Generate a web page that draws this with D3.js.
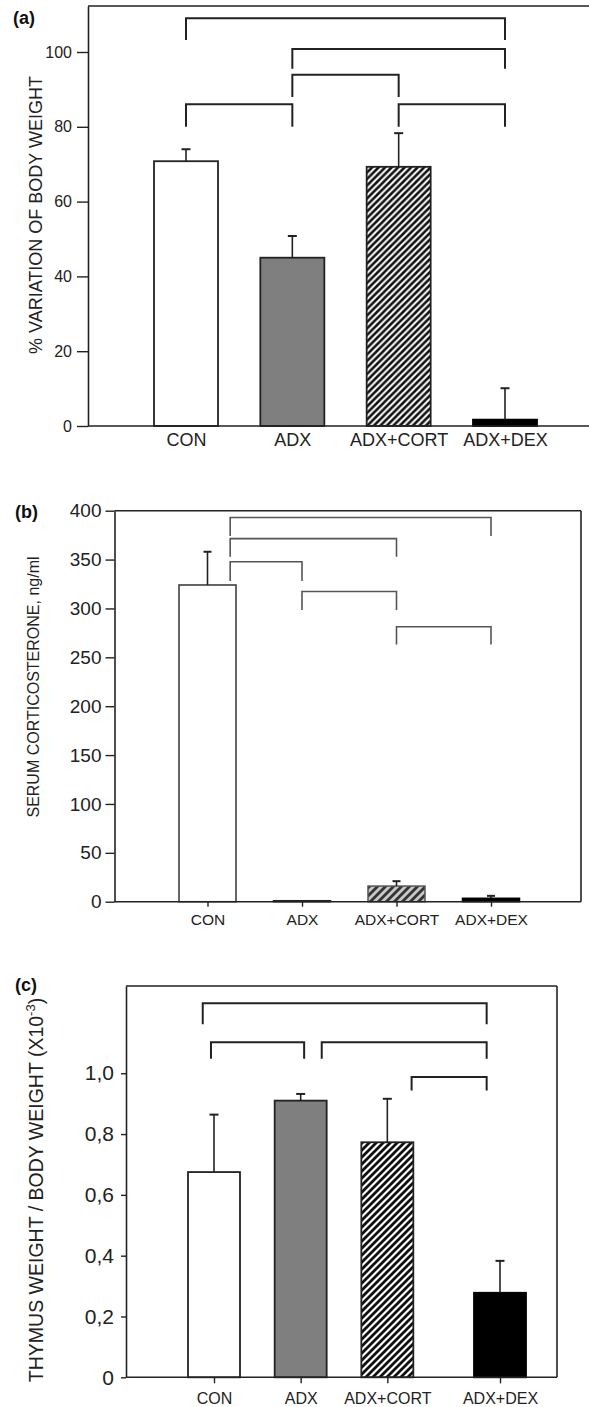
<!DOCTYPE html>
<html><head><meta charset="utf-8">
<script src="https://cdn.jsdelivr.net/npm/d3@7"></script>
<style>body{margin:0;background:#fff}svg{display:block}</style>
</head><body><svg id="chart" width="589" height="1407"></svg>
<script>
// ---------- data ----------
const categories = ["CON", "ADX", "ADX+CORT", "ADX+DEX"];

const bodyWeightMean = [70.8, 45.0, 69.3, 1.7];
const bodyWeightSE = [3.2, 5.8, 9.0, 8.4];
const bodyWeightTicks = [0, 20, 40, 60, 80, 100];
// [from category, to category, bracket top, leg bottom] in data units
const bodyWeightBrackets = [[0, 3, 109, 103.2], [1, 3, 100.8, 95.5], [1, 2, 93.9, 88], [0, 1, 86, 80], [2, 3, 86, 80]];

const corticosteroneMean = [324, 1, 16, 3.5];
const corticosteroneSE = [34, 0, 5, 2.5];
const corticosteroneTicks = [0, 50, 100, 150, 200, 250, 300, 350, 400];
const corticosteroneBrackets = [[0.24, 3, 393, 374], [0.24, 2, 371.4, 353], [0.24, 1, 347.7, 328], [1, 2, 317.3, 298.4], [2, 3, 281.3, 263]];

const thymusMean = [0.675, 0.91, 0.773, 0.278];
const thymusSE = [0.189, 0.022, 0.143, 0.105];
const thymusTicks = [0, 0.2, 0.4, 0.6, 0.8, 1.0];
const thymusTickLabels = ["0", "0,2", "0,4", "0,6", "0,8", "1,0"];
const thymusBrackets = [[-0.13, 3.146, 1.23, 1.161], [-0.035, 1.04, 1.102, 1.048], [1.243, 3.146, 1.102, 1.048], [2.28, 3.146, 0.988, 0.943]];

// ---------- drawing ----------
const FONT = "'Liberation Sans', Arial, Helvetica, sans-serif";
const INK = "#222";
const svg = d3.select("#chart");
const defs = svg.append("defs");

function hatch(id, size, bg, fg, sw) {
  const p = defs.append("pattern").attr("id", id)
    .attr("patternUnits", "userSpaceOnUse").attr("width", size).attr("height", size);
  p.append("rect").attr("width", size).attr("height", size).attr("fill", bg);
  p.append("path")
    .attr("d", `M0,${size} L${size},0 M${-size/2},${size/2} L${size/2},${-size/2} M${size/2},${size*1.5} L${size*1.5},${size/2}`)
    .attr("stroke", fg).attr("stroke-width", sw);
}
hatch("hatchA", 6.5, "#fff", "#111", 2.6);
hatch("hatchB", 8, "#c8c8c8", "#333", 2.8);
hatch("hatchC", 7, "#fff", "#111", 2.8);

function panel(cfg) {
  const g = svg.append("g");
  const y = d3.scaleLinear().domain([0, cfg.yMax]).range([cfg.bottom, cfg.top]);
  const x = d3.scaleLinear().domain(cfg.xDomain).range(cfg.xRange);
  const rows = cfg.mean.map((m, i) => ({m, se: cfg.se[i], p: cfg.catPos[i], fill: cfg.fills[i], stroke: cfg.strokes[i]}));

  // frame
  g.append("line").attr("x1", cfg.left).attr("x2", cfg.right).attr("y1", cfg.top).attr("y2", cfg.top)
    .attr("stroke", INK).attr("stroke-width", 1.6);
  if (cfg.rightFrame) {
    g.append("line").attr("x1", cfg.right).attr("x2", cfg.right).attr("y1", cfg.top).attr("y2", cfg.bottom)
      .attr("stroke", INK).attr("stroke-width", 1.6);
  }

  // bars
  g.selectAll("rect.bar").data(rows).join("rect").attr("class", "bar")
    .attr("x", d => x(d.p) - cfg.barW / 2)
    .attr("width", cfg.barW)
    .attr("y", d => y(d.m))
    .attr("height", d => cfg.bottom - y(d.m))
    .attr("fill", d => d.fill)
    .attr("stroke", d => d.stroke)
    .attr("stroke-width", cfg.barStroke);

  // error bars (upper only)
  const withErr = rows.filter(d => d.se > 0);
  g.selectAll("line.err").data(withErr).join("line").attr("class", "err")
    .attr("x1", d => x(d.p)).attr("x2", d => x(d.p))
    .attr("y1", d => y(d.m)).attr("y2", d => y(d.m + d.se))
    .attr("stroke", INK).attr("stroke-width", 1.6);
  g.selectAll("line.cap").data(withErr).join("line").attr("class", "cap")
    .attr("x1", d => x(d.p) - cfg.cap / 2).attr("x2", d => x(d.p) + cfg.cap / 2)
    .attr("y1", d => y(d.m + d.se)).attr("y2", d => y(d.m + d.se))
    .attr("stroke", INK).attr("stroke-width", 2);

  // significance brackets
  g.selectAll("path.br").data(cfg.brackets).join("path").attr("class", "br")
    .attr("d", b => `M${x(b[0])},${y(b[3])} V${y(b[2])} H${x(b[1])} V${y(b[3])}`)
    .attr("fill", "none").attr("stroke", cfg.brColor).attr("stroke-width", cfg.brWidth);

  // y axis
  const ya = d3.axisLeft(y).tickValues(cfg.ticks).tickSize(cfg.tickSize).tickPadding(cfg.tickPad).tickSizeOuter(0)
    .tickFormat((d, i) => cfg.tickLabels ? cfg.tickLabels[i] : d);
  const yg = g.append("g").attr("transform", `translate(${cfg.left},0)`).call(ya);
  yg.select(".domain").attr("stroke", INK).attr("stroke-width", 1.6);
  yg.selectAll(".tick line").attr("stroke", INK).attr("stroke-width", 1.4);
  yg.selectAll("text").attr("font-family", FONT).attr("font-size", cfg.tickFont).attr("fill", INK);

  // x baseline
  g.append("line").attr("x1", cfg.left).attr("x2", cfg.right).attr("y1", cfg.bottom).attr("y2", cfg.bottom)
    .attr("stroke", INK).attr("stroke-width", 1.6);
  // x axis labels
  const xa = d3.axisBottom(x).tickValues(cfg.catPos).tickSize(cfg.xTick).tickPadding(cfg.xPad)
    .tickFormat((d, i) => categories[i]);
  const xg = g.append("g").attr("transform", `translate(0,${cfg.bottom})`).call(xa);
  xg.select(".domain").remove();
  xg.selectAll(".tick line").attr("stroke", INK).attr("stroke-width", 1.4);
  xg.selectAll("text").attr("font-family", FONT).attr("font-size", cfg.labelFont).attr("fill", INK);

  // y label
  const yl = g.append("text")
    .attr("transform", `translate(${cfg.yLabelX},${cfg.yLabelY}) rotate(-90)`)
    .attr("text-anchor", "middle").attr("font-family", FONT).attr("font-size", cfg.yLabelFont).attr("fill", INK);
  cfg.yLabel.forEach(part => {
    const t = yl.append("tspan").text(part.t);
    if (part.dy) t.attr("dy", part.dy);
    if (part.fs) t.attr("font-size", part.fs);
  });

  // panel letter
  g.append("text").attr("x", cfg.letterX).attr("y", cfg.letterY)
    .attr("font-family", FONT).attr("font-weight", "bold").attr("font-size", 18).attr("fill", "#111")
    .text(cfg.letter);
}

panel({
  letter: "(a)", letterX: 13, letterY: 24,
  top: 6, bottom: 426, left: 88, right: 589, rightFrame: false, yMax: 112.3,
  xDomain: [0, 3], xRange: [186, 505], catPos: [0, 1, 2, 3], barW: 64, barStroke: 1.8,
  mean: bodyWeightMean, se: bodyWeightSE, cap: 9,
  fills: ["#fff", "#7f7f7f", "url(#hatchA)", "#000"], strokes: [INK, INK, INK, "#000"],
  brackets: bodyWeightBrackets, brColor: "#222", brWidth: 2,
  ticks: bodyWeightTicks, tickSize: 11, tickPad: 5, tickFont: 16,
  xTick: 0, xPad: 7.7, labelFont: 18,
  yLabel: [{t: "% VARIATION OF BODY WEIGHT"}], yLabelX: 42, yLabelY: 215, yLabelFont: 18
});

panel({
  letter: "(b)", letterX: 15, letterY: 518,
  top: 510.7, bottom: 901.7, left: 114.5, right: 581, rightFrame: true, yMax: 400,
  xDomain: [0, 3], xRange: [207.5, 491], catPos: [0, 1, 2, 3], barW: 57, barStroke: 1.5,
  mean: corticosteroneMean, se: corticosteroneSE, cap: 8,
  fills: ["#fff", "#222", "url(#hatchB)", "#000"], strokes: ["#333", "#222", "#555", "#000"],
  brackets: corticosteroneBrackets, brColor: "#555", brWidth: 1.6,
  ticks: corticosteroneTicks, tickSize: 9, tickPad: 4, tickFont: 19,
  xTick: 5, xPad: 7.8, labelFont: 15.5,
  yLabel: [{t: "SERUM CORTICOSTERONE, ng/ml"}], yLabelX: 39, yLabelY: 687, yLabelFont: 16
});

panel({
  letter: "(c)", letterX: 15, letterY: 991,
  top: 986, bottom: 1377.3, left: 126, right: 557, rightFrame: true, yMax: 1.287,
  xDomain: [0, 3.3], xRange: [214, 500], catPos: [0, 1, 2, 3.3], barW: 52, barStroke: 1.8,
  mean: thymusMean, se: thymusSE, cap: 9,
  fills: ["#fff", "#7f7f7f", "url(#hatchC)", "#000"], strokes: [INK, INK, INK, "#000"],
  brackets: thymusBrackets, brColor: "#222", brWidth: 2,
  ticks: thymusTicks, tickLabels: thymusTickLabels, tickSize: 5, tickPad: 7, tickFont: 21,
  xTick: 6, xPad: 9, labelFont: 16,
  yLabel: [{t: "THYMUS WEIGHT / BODY WEIGHT (X10"}, {t: "-3", dy: -8, fs: 13}, {t: ")", dy: 8}],
  yLabelX: 43, yLabelY: 1190, yLabelFont: 19.5
});
</script>
</body></html>
